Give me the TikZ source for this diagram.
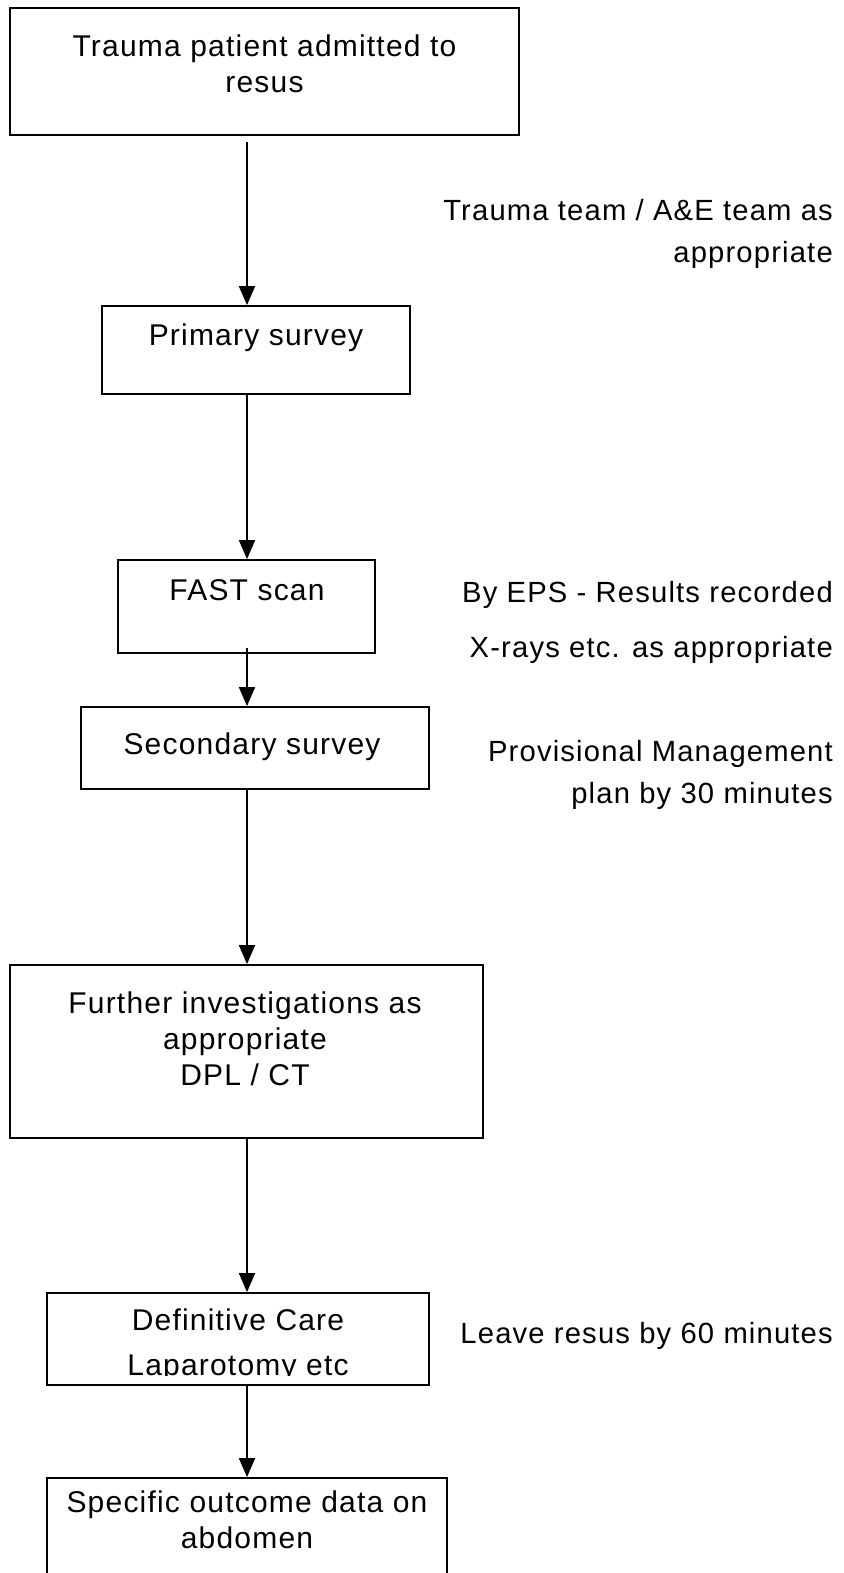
\documentclass[tikz,border=0pt]{standalone}
\usepackage{fontspec}
\setmainfont[LetterSpace=4]{Liberation Sans}
\usetikzlibrary{arrows.meta,calc}
\begin{document}
\begin{tikzpicture}[x=1pt,y=-1pt,
  box/.style={draw=black,line width=1.8pt,inner sep=0pt},
  txt/.style={font=\fontsize{30}{36}\selectfont,align=center,inner sep=0pt},
  rtxt/.style={font=\fontsize{29.2}{42}\selectfont,align=right,inner sep=0pt,anchor=east},
  arr/.style={line width=1.8pt,-{Triangle[width=16pt,length=19pt]}}]
\useasboundingbox (0,0) rectangle (843,1573);
\fill[white] (0,0) rectangle (843,1573);
\coordinate (col) at (247,0);
% boxes
\node[box,minimum width=509pt,minimum height=127pt] (b1) at (264.5,71.5) {};
\node[txt] (t1) at (264.5,64) {Trauma patient admitted to\\resus};
\node[box,minimum width=308pt,minimum height=88pt] (b2) at (256,350) {};
\node[txt] (t2) at (256,338) {Primary survey};
\node[box,minimum width=257pt,minimum height=93pt] (b3) at (246.5,606.5) {};
\node[txt] (t3) at (247,590) {FAST scan};
\node[box,minimum width=348pt,minimum height=82pt] (b4) at (255,748) {};
\node[txt] (t4) at (252,747) {Secondary survey};
\node[box,minimum width=473pt,minimum height=173pt] (b5) at (246.5,1051.5) {};
\node[txt] (t5) at (245,1039) {Further investigations as\\appropriate\\DPL / CT};
\node[box,minimum width=382pt,minimum height=92pt] (b6) at (238,1339) {};
\begin{scope}
\clip (47,1293) rectangle (429,1375);
\node[txt,font=\fontsize{30}{45}\selectfont] (t6) at (238,1345) {Definitive Care\\Laparotomy etc};
\end{scope}
\node[box,minimum width=400pt,minimum height=130pt] (b7) at (247,1543) {};
\node[txt] (t7) at (247,1519.5) {Specific outcome data on\\abdomen};
% side labels
\node[rtxt] (l1) at (833,234) {Trauma team / A\&E team as\\appropriate};
\node[rtxt] (l2) at (833,595) {By EPS - Results recorded};
\node[rtxt] (l3) at (833,650) {X-rays etc. as appropriate};
\node[rtxt] (l4) at (833,774.5) {Provisional Management\\plan by 30 minutes};
\node[rtxt] (l5) at (833,1336) {Leave resus by 60 minutes};
% arrows
\draw[arr] ($(b1.south -| col)+(0,6)$) -- (b2.north -| col);
\draw[arr] (b2.south -| col) -- (b3.north -| col);
\draw[arr] ($(b3.south -| col)+(0,-6)$) -- (b4.north -| col);
\draw[arr] (b4.south -| col) -- (b5.north -| col);
\draw[arr] (b5.south -| col) -- (b6.north -| col);
\draw[arr] (b6.south -| col) -- (b7.north -| col);
\end{tikzpicture}
\end{document}
